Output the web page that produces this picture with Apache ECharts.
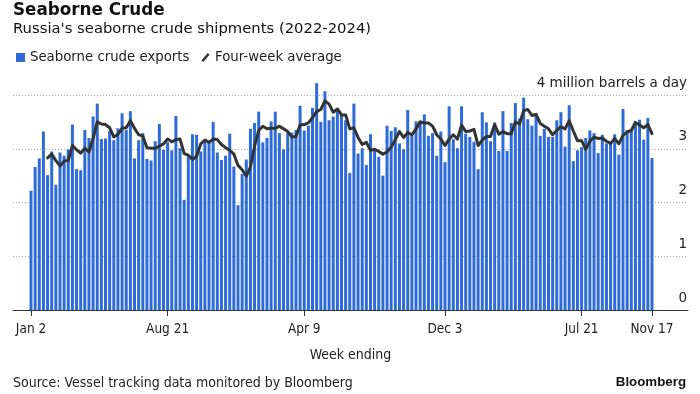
<!DOCTYPE html>
<html>
<head>
<meta charset="utf-8">
<script src="https://cdn.jsdelivr.net/npm/echarts@6/dist/echarts.min.js"></script>
<style>
  html, body { margin: 0; padding: 0; background: #ffffff; }
  #chart { width: 700px; height: 394px; }
</style>
</head>
<body>
<div id="chart"></div>
<script>
// Weekly seaborne crude exports, million barrels a day (week ending Jan 2 2022 ... Nov 17 2024)
const exportsValues = [
  2.22, 2.66, 2.82, 3.32, 2.51, 2.95, 2.33, 2.93, 2.87, 2.99,
  3.45, 2.62, 2.60, 3.35, 3.20, 3.60, 3.84, 3.18, 3.19, 3.33,
  3.16, 3.38, 3.66, 3.35, 3.70, 2.82, 3.16, 3.29, 2.81, 2.78,
  3.14, 3.46, 2.98, 3.12, 2.97, 3.61, 3.01, 2.05, 2.86, 3.27,
  3.26, 2.95, 3.15, 3.11, 3.50, 2.93, 2.79, 2.87, 3.28, 2.67,
  1.95, 2.53, 2.80, 3.37, 3.48, 3.69, 3.12, 3.20, 3.51, 3.69,
  3.29, 2.99, 3.29, 3.30, 3.35, 3.80, 3.34, 3.43, 3.76, 4.22,
  3.50, 4.07, 3.53, 3.60, 3.74, 3.65, 3.53, 2.55, 3.84, 2.91,
  3.01, 2.70, 3.27, 2.96, 2.85, 2.50, 3.43, 3.33, 3.40, 3.10,
  2.99, 3.72, 3.24, 3.51, 3.52, 3.64, 3.24, 3.29, 2.87, 3.32,
  2.75, 3.79, 3.18, 3.01, 3.79, 3.28, 3.22, 3.13, 2.62, 3.68,
  3.49, 3.14, 3.49, 2.96, 3.70, 2.96, 3.48, 3.85, 3.56, 3.95,
  3.55, 3.43, 3.64, 3.24, 3.37, 3.22, 3.22, 3.53, 3.68, 3.04,
  3.81, 2.77, 2.97, 3.03, 3.20, 3.34, 3.29, 2.92, 3.26, 3.10,
  3.11, 3.27, 2.89, 3.74, 3.35, 3.36, 3.50, 3.54, 3.17, 3.57,
  2.83
];

// Four-week average (starts at the fifth week)
const fourWeekAvg = [
  null, null, null, null, 2.83, 2.90, 2.78, 2.68, 2.77, 2.78,
  3.06, 2.98, 2.92, 3.01, 2.94, 3.19, 3.50, 3.46, 3.45, 3.39,
  3.22, 3.27, 3.38, 3.39, 3.52, 3.38, 3.26, 3.24, 3.02, 3.01,
  3.01, 3.05, 3.09, 3.18, 3.13, 3.17, 3.18, 2.91, 2.88, 2.80,
  2.86, 3.09, 3.16, 3.12, 3.18, 3.17, 3.08, 3.02, 2.97, 2.90,
  2.69, 2.61, 2.49, 2.66, 3.05, 3.34, 3.42, 3.37, 3.38, 3.38,
  3.42, 3.37, 3.32, 3.22, 3.23, 3.44, 3.45, 3.48, 3.58, 3.69,
  3.73, 3.89, 3.83, 3.68, 3.74, 3.63, 3.63, 3.37, 3.39, 3.21,
  3.08, 3.12, 2.97, 2.99, 2.95, 2.90, 2.94, 3.03, 3.17, 3.32,
  3.21, 3.30, 3.26, 3.37, 3.50, 3.48, 3.48, 3.42, 3.26, 3.18,
  3.06, 3.18, 3.26, 3.18, 3.44, 3.32, 3.33, 3.36, 3.06, 3.16,
  3.23, 3.23, 3.45, 3.27, 3.32, 3.28, 3.28, 3.50, 3.46, 3.71,
  3.73, 3.62, 3.64, 3.47, 3.42, 3.37, 3.26, 3.34, 3.41, 3.37,
  3.52, 3.33, 3.15, 3.15, 2.99, 3.14, 3.22, 3.19, 3.20, 3.14,
  3.10, 3.19, 3.09, 3.25, 3.31, 3.34, 3.49, 3.44, 3.39, 3.45,
  3.28
];

const firstWeekEnding = '2022-01-02';
const tickLabels = ['Jan 2', 'Aug 21', 'Apr 9', 'Dec 3', 'Jul 21', 'Nov 17'];
const yTicks = [0, 1, 2, 3, 4];

// categories: week-ending dates
const monthNames = ['Jan','Feb','Mar','Apr','May','Jun','Jul','Aug','Sep','Oct','Nov','Dec'];
const weekEnding = exportsValues.map((_, i) => {
  const d = new Date(firstWeekEnding + 'T00:00:00Z');
  d.setUTCDate(d.getUTCDate() + 7 * i);
  return monthNames[d.getUTCMonth()] + ' ' + d.getUTCDate();
});
const tickIndex = tickLabels.map(l => weekEnding.indexOf(l));

const barData = exportsValues.map((v, i) => [i, v]);
const lineData = fourWeekAvg.map((v, i) => [i, v]).filter(p => p[1] !== null);

const BLUE = '#2d6cd8';
const DARK = '#333333';
const FONT = '"DejaVu Sans", sans-serif';
const FONT_C = '"DejaVu Sans Condensed", "DejaVu Sans", sans-serif';

const chart = echarts.init(document.getElementById('chart'), null, { renderer: 'canvas' });
chart.setOption({
  animation: false,
  backgroundColor: '#ffffff',
  title: [
    { text: 'Seaborne Crude', left: 13, top: 2, padding: 0,
      textStyle: { fontFamily: FONT, fontWeight: 'bold', fontSize: 16.8, color: '#111' } },
    { text: "Russia's seaborne crude shipments (2022-2024)", left: 13, top: 22, padding: 0,
      textStyle: { fontFamily: FONT, fontWeight: 'normal', fontSize: 14.8, color: '#111' } },
    { text: 'Source: Vessel tracking data monitored by Bloomberg', left: 13, top: 376, padding: 0,
      textStyle: { fontFamily: FONT_C, fontWeight: 'normal', fontSize: 14, color: '#222' } },
    { text: 'Bloomberg', right: 14, top: 376, padding: 0,
      textStyle: { fontFamily: '"Liberation Sans", Arial, sans-serif', fontWeight: 'bold', fontSize: 13.3, color: '#111' } }
  ],
  legend: {
    left: 16, top: 51, padding: 0,
    itemWidth: 9, itemHeight: 9, itemGap: 12, itemTextGap: 7,
    textStyle: { fontFamily: FONT, fontSize: 13.3, color: '#222' },
    data: [
      { name: 'Seaborne crude exports', icon: 'rect', itemStyle: { color: BLUE } },
      { name: 'Four-week average', icon: 'path://M0,8 L7,0 L9,2 L2,10 Z', itemStyle: { color: DARK } }
    ]
  },
  grid: { left: 13, right: 12, top: 95, bottom: 84, containLabel: false },
  xAxis: {
    type: 'value',
    min: -4.35,
    max: 158.7,
    name: 'Week ending',
    nameLocation: 'middle',
    nameGap: 38,
    nameTextStyle: { fontFamily: FONT_C, fontSize: 14, color: '#222' },
    axisLine: { show: true, lineStyle: { color: '#333', width: 1 } },
    axisTick: { show: true, customValues: tickIndex, length: 6, lineStyle: { color: '#333' } },
    axisLabel: {
      customValues: tickIndex,
      formatter: v => weekEnding[Math.round(v)],
      margin: 12,
      fontFamily: FONT_C, fontSize: 13.5, color: '#222'
    },
    splitLine: { show: false }
  },
  yAxis: {
    type: 'value',
    position: 'right',
    min: yTicks[0],
    max: yTicks[yTicks.length - 1],
    interval: 1,
    axisLine: { show: false },
    axisTick: { show: false },
    axisLabel: {
      inside: true,
      margin: 1,
      verticalAlign: 'bottom',
      padding: [0, 0, 5, 0],
      fontFamily: FONT, fontSize: 13.5, color: '#222',
      formatter: v => (v === 4 ? '4 million barrels a day' : String(v))
    },
    splitLine: { show: true, lineStyle: { color: '#aaaaaa', type: [1, 2], width: 1 } }
  },
  series: [
    {
      name: 'Seaborne crude exports',
      type: 'bar',
      data: barData,
      barWidth: 3,
      clip: false,
      itemStyle: { color: BLUE },
      z: 2
    },
    {
      name: 'Four-week average',
      type: 'line',
      data: lineData,
      showSymbol: false,
      symbol: 'none',
      clip: false,
      lineStyle: { color: DARK, width: 3, join: 'round', cap: 'round' },
      itemStyle: { color: DARK },
      z: 3
    }
  ]
});
</script>
</body>
</html>
